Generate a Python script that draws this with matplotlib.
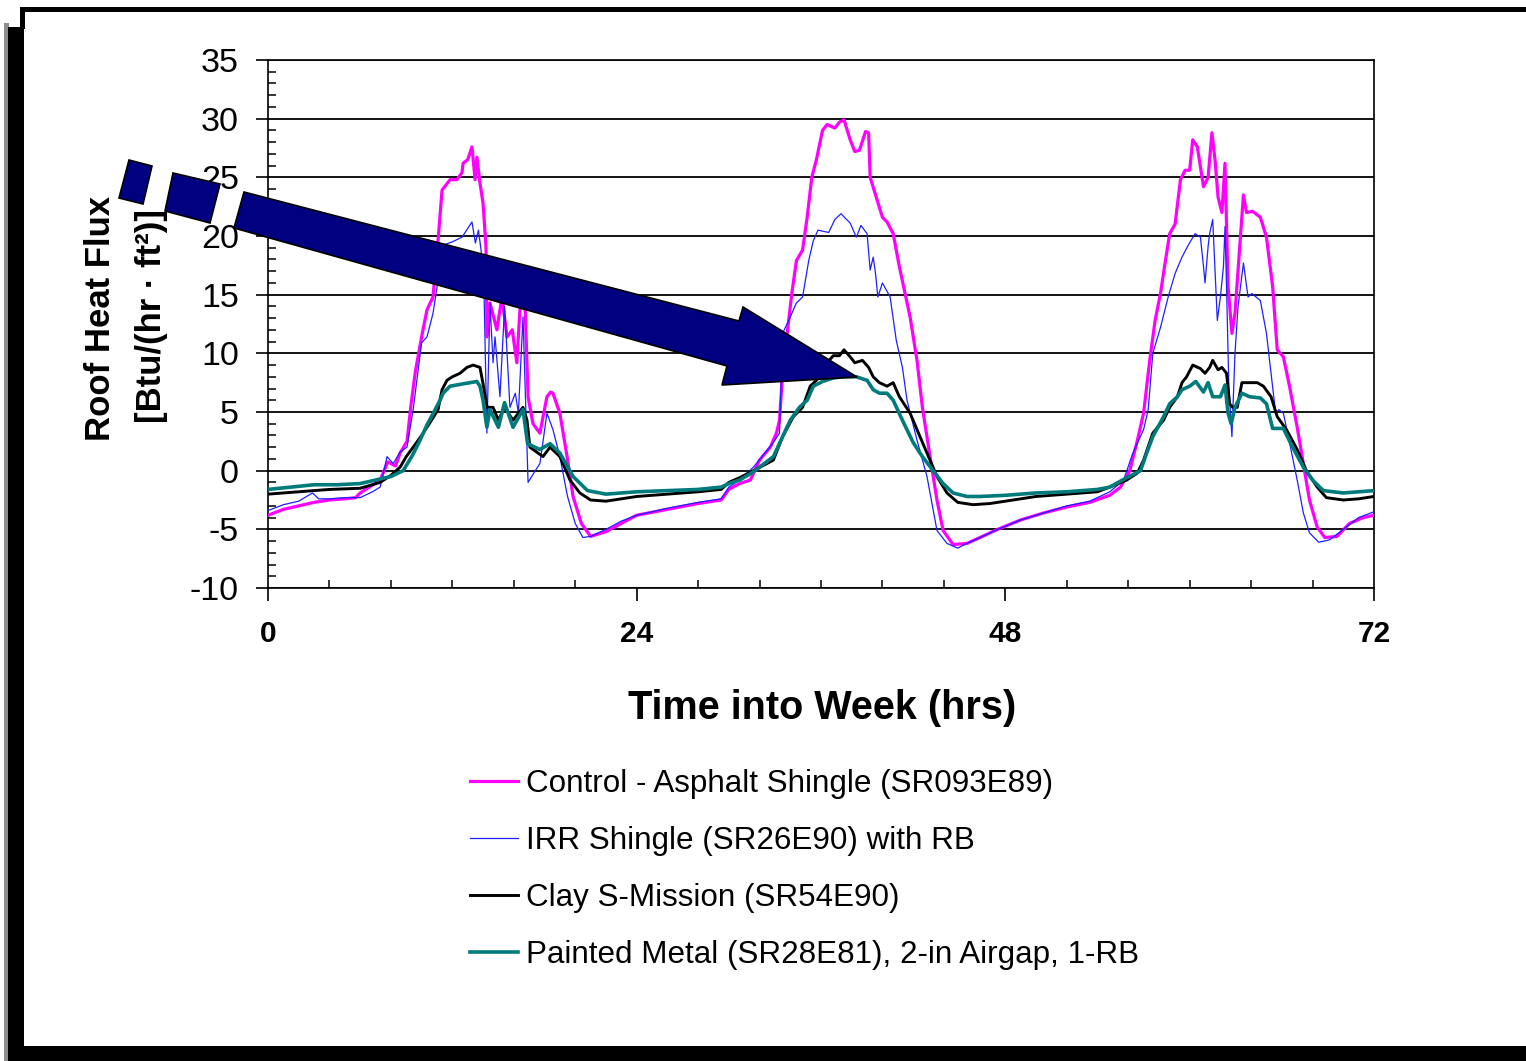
import numpy as np
import matplotlib.pyplot as plt
from matplotlib.patches import Polygon, Rectangle
from matplotlib.ticker import MultipleLocator

plt.rcParams['font.family'] = ['Liberation Sans', 'DejaVu Sans']
plt.rcParams['axes.unicode_minus'] = False

W, H = 1526, 1061

# Control - Asphalt Shingle
hrs_ctrl = [0, 1, 2, 3, 4, 5, 5.7, 6.0, 6.6, 7.3, 7.8, 8.3, 8.6, 9.05, 9.3, 9.6, 10.0, 10.35,
            10.74, 11.07, 11.33, 11.85, 12.3, 12.63, 12.7, 13.0, 13.28, 13.48, 13.6, 13.8, 14.0,
            14.19, 14.26, 14.45, 14.9, 15.23, 15.56, 15.9, 16.2, 16.4, 16.73, 16.93, 17.25, 17.7,
            18.16, 18.4, 18.55, 19.0, 19.47, 19.86, 20.4, 21.0, 22.0, 23.0, 24.0, 26.0, 28.0,
            29.5, 30.0, 30.7, 31.4, 32.0, 32.7, 33.1, 33.3, 33.46, 33.8, 34.1, 34.4, 34.8, 35.1,
            35.4, 35.7, 36.1, 36.4, 36.9, 37.2, 37.5, 37.9, 38.2, 38.5, 38.9, 39.1, 39.2, 39.65,
            40.0, 40.3, 40.7, 41.1, 41.8, 42.25, 42.6, 43.1, 43.55, 43.95, 44.6, 45.5, 46.35,
            47.5, 49.0, 50.5, 52.0, 53.5, 54.8, 55.5, 56.1, 56.6, 57.0, 57.4, 57.75, 58.1, 58.4,
            58.7, 59.05, 59.4, 59.7, 60.0, 60.2, 60.5, 60.9, 61.2, 61.45, 61.65, 61.85, 62.1,
            62.3, 62.5, 62.75, 62.95, 63.3, 63.5, 63.7, 64.1, 64.6, 65.0, 65.4, 65.7, 66.1, 66.5,
            67.0, 67.4, 67.8, 68.3, 68.8, 69.6, 70.4, 71.3, 72.0]
flux_ctrl = [-3.8, -3.3, -3.0, -2.7, -2.5, -2.4, -2.3, -1.9, -1.4, -0.8, 0.75, 0.4, 1.5, 2.5,
             5.5, 8.5, 11.4, 13.7, 14.8, 19.6, 23.9, 24.8, 24.8, 25.4, 26.2, 26.5, 27.6, 24.8,
             26.7, 24.5, 22.8, 19.1, 11.4, 14.3, 12.0, 14.8, 11.4, 12.0, 9.2, 13.7, 14.3, 6.3,
             4.0, 3.2, 6.3, 6.7, 6.6, 4.9, 1.2, -2.2, -4.5, -5.6, -5.2, -4.5, -3.8, -3.3, -2.8,
             -2.5, -1.6, -1.1, -0.8, 0.9, 2.0, 3.2, 4.3, 7.5, 11.7, 15.1, 17.9, 18.8, 21.6,
             25.0, 26.5, 29.0, 29.5, 29.2, 29.7, 29.9, 28.2, 27.2, 27.3, 28.9, 28.8, 25.0, 23.1,
             21.6, 21.2, 20.2, 17.4, 13.1, 9.4, 5.4, 1.2, -2.5, -5.1, -6.3, -6.2, -5.7,
             -5.0, -4.2, -3.6, -3.1, -2.7, -2.1, -1.4, 0.0, 2.6, 4.9, 9.4, 12.8, 15.1, 17.7,
             20.2, 21.0, 24.8, 25.6, 25.6, 28.2, 27.6, 24.2, 25.0, 28.8, 26.5, 23.3, 22.0,
             26.2, 15.7, 11.7, 13.4, 19.9, 23.5, 22.0, 22.1, 21.6, 19.9, 15.7, 10.3, 9.7, 7.2,
             3.7, 0.6, -2.5, -4.8, -5.7, -5.6, -4.5, -4.0, -3.8]

# IRR Shingle with RB
hrs_irr = [0, 1, 2, 2.9, 3.3, 4, 5, 6, 6.8, 7.3, 7.75, 8.15, 8.6, 9.05, 9.45, 10.0, 10.35, 10.74,
           11.0, 11.33, 12.0, 12.63, 13.28, 13.5, 13.7, 13.9, 14.06, 14.25, 14.45, 14.65, 14.78,
           15.1, 15.4, 15.75, 16.1, 16.3, 16.6, 16.86, 16.93, 17.4, 17.7, 18.16, 18.55, 19.0,
           19.5, 20.0, 20.5, 21.0, 22.0, 23.0, 24.0, 26.0, 28.0, 29.5, 30.0, 30.7, 31.6, 32.9,
           33.3, 33.5, 34.0, 34.4, 34.8, 35.2, 35.5, 35.8, 36.5, 36.9, 37.3, 37.9, 38.3, 38.6,
           39.0, 39.2, 39.4, 39.55, 39.7, 40.0, 40.5, 40.9, 41.3, 41.6, 42.25, 42.9, 43.55,
           44.2, 44.9, 45.5, 46.35, 47.5, 49.0, 50.5, 52.0, 53.5, 54.8, 55.7, 56.3, 57.0, 57.3,
           57.6, 58.1, 58.6, 59.05, 59.5, 59.9, 60.35, 60.7, 60.9, 61.0, 61.2, 61.3, 61.5,
           61.65, 61.8, 62.0, 62.2, 62.3, 62.4, 62.55, 62.75, 62.95, 63.15, 63.5, 63.8, 64.05,
           64.6, 65.0, 65.2, 65.6, 65.8, 66.1, 66.5, 67.0, 67.4, 67.8, 68.4, 69.1, 70.0, 71.0,
           72.0]
flux_irr = [-3.4, -2.9, -2.6, -1.9, -2.4, -2.4, -2.3, -2.3, -1.8, -1.4, 1.2, 0.6, 1.6, 2.0, 5.2,
            10.9, 11.4, 13.4, 15.6, 19.2, 19.5, 19.9, 21.2, 19.4, 20.5, 18.5, 15.4, 3.2, 14.3,
            9.2, 11.4, 6.3, 14.0, 5.4, 6.6, 4.9, 13.1, 1.8, -1.0, 0.0, 0.6, 4.9, 3.5, 1.2, -2.2,
            -4.5, -5.7, -5.6, -5.0, -4.3, -3.8, -3.2, -2.7, -2.4, -1.4, -0.8, 0.3, 2.4, 3.2,
            11.7, 13.1, 14.3, 14.8, 17.9, 19.6, 20.5, 20.3, 21.4, 21.9, 21.1, 19.9, 20.9, 20.2,
            17.1, 18.2, 16.8, 14.8, 16.0, 14.8, 11.1, 8.8, 6.0, 2.6, -0.5, -5.1, -6.2, -6.6,
            -6.2, -5.7, -5.0, -4.2, -3.6, -3.0, -2.6, -1.8, -0.8, 1.5, 3.5, 5.2, 10.0, 12.2,
            14.8, 16.8, 18.2, 19.2, 20.2, 19.9, 17.4, 16.0, 19.1, 20.2, 21.4, 17.1, 12.8, 14.8,
            17.4, 20.8, 15.7, 7.2, 2.9, 10.0, 14.0, 17.7, 14.8, 15.1, 14.5, 11.7, 9.4, 4.9, 5.2,
            4.9, 2.4, -0.8, -3.6, -5.3, -6.1, -5.9, -5.0, -4.0, -3.5]

# Clay S-Mission
hrs_clay = [0, 2, 4, 6, 7.3, 8.0, 8.6, 9.0, 9.45, 10.0, 10.5, 11.07, 11.33, 11.65, 12.0, 12.5,
            12.95, 13.35, 13.8, 14.0, 14.26, 14.65, 15.0, 15.4, 15.95, 16.6, 16.86, 17.05, 17.9,
            18.36, 19.0, 19.66, 20.3, 21.0, 22.0, 23.0, 24.0, 26.0, 28.0, 29.5, 30.0, 30.7,
            31.6, 32.9, 33.5, 34.2, 34.8, 35.3, 35.7, 36.4, 36.8, 37.2, 37.5, 37.9, 38.2, 38.7,
            39.1, 39.4, 39.8, 40.3, 40.7, 41.1, 41.8, 42.25, 42.9, 43.55, 44.2, 44.9, 45.9,
            47.0, 48.0, 50.0, 52.0, 54.0, 54.8, 55.9, 56.6, 57.0, 57.6, 58.3, 58.7, 59.2, 59.5,
            59.8, 60.2, 60.7, 61.0, 61.3, 61.5, 61.85, 62.1, 62.4, 62.6, 62.8, 63.1, 63.4, 64.4,
            64.8, 65.3, 65.7, 66.3, 67.0, 67.6, 68.3, 68.9, 70.0, 71.0, 72.0]
flux_clay = [-2.0, -1.8, -1.6, -1.5, -1.0, -0.4, 0.3, 1.2, 2.0, 3.0, 4.0, 5.2, 6.9, 7.7, 8.0,
             8.3, 8.8, 9.0, 8.8, 7.4, 5.4, 5.4, 4.3, 5.4, 4.3, 5.4, 4.3, 2.0, 1.2, 2.0, 1.2,
             -0.8, -1.9, -2.5, -2.6, -2.4, -2.2, -2.0, -1.8, -1.6, -1.0, -0.6, 0.0, 0.9, 2.9,
             4.6, 5.4, 7.2, 7.7, 9.2, 9.8, 9.8, 10.3, 9.7, 9.2, 9.4, 8.8, 8.0, 7.5, 7.2, 7.5,
             6.3, 4.9, 3.5, 1.5, -0.5, -1.9, -2.7, -2.9, -2.8, -2.6, -2.2, -2.0, -1.8, -1.4,
             -0.8, -0.2, 0.9, 3.2, 4.3, 5.4, 6.3, 7.5, 8.0, 9.0, 8.7, 8.3, 8.8, 9.4, 8.6, 8.8,
             8.3, 5.7, 5.4, 5.4, 7.5, 7.5, 7.2, 6.3, 4.6, 3.5, 1.8, 0.0, -1.4, -2.3, -2.5,
             -2.4, -2.2]

# Painted Metal, 2-in Airgap
hrs_metal = [0, 1.5, 3, 4.5, 6, 7, 8, 8.8, 9.4, 9.9, 10.35, 10.8, 11.2, 11.4, 11.85, 12.7,
             13.6, 13.8, 14.0, 14.25, 14.45, 14.78, 15.0, 15.4, 15.95, 16.6, 16.9, 17.7, 18.36,
             19.0, 19.86, 20.8, 22.0, 24.0, 26.0, 28.0, 29.5, 30.0, 30.7, 31.6, 32.9, 33.5,
             34.0, 34.6, 35.1, 35.5, 36.1, 36.8, 37.4, 38.3, 39.0, 39.4, 39.8, 40.3, 40.7,
             41.3, 42.0, 42.6, 43.3, 43.95, 44.6, 45.5, 46.35, 48.0, 50.0, 52.0, 54.0, 54.8,
             55.9, 56.8, 57.2, 57.6, 58.3, 58.7, 59.2, 59.5, 60.0, 60.4, 60.9, 61.2, 61.5, 62.0,
             62.3, 62.5, 62.7, 62.95, 63.4, 63.9, 64.6, 65.0, 65.4, 66.1, 66.7, 67.4, 68.0,
             68.7, 70.0, 71.0, 72.0]
flux_metal = [-1.6, -1.4, -1.2, -1.2, -1.1, -0.8, -0.5, 0.0, 1.3, 2.6, 3.9, 5.0, 6.0, 6.6, 7.2,
              7.4, 7.6, 7.2, 6.0, 3.7, 5.2, 4.3, 3.7, 5.8, 3.7, 5.2, 2.3, 1.8, 2.3, 1.5, -0.5,
              -1.7, -2.0, -1.8, -1.7, -1.6, -1.4, -1.1, -0.8, -0.1, 1.2, 2.9, 4.3, 5.4, 6.0,
              7.2, 7.6, 7.9, 8.0, 8.0, 7.7, 6.9, 6.6, 6.6, 6.0, 4.3, 2.4, 1.2, 0.0, -1.1, -1.9,
              -2.2, -2.2, -2.1, -1.9, -1.8, -1.6, -1.4, -0.6, 0.0, 1.5, 2.9, 4.6, 5.7, 6.3, 6.9,
              7.2, 7.6, 6.7, 7.5, 6.3, 6.3, 7.3, 4.9, 4.0, 5.4, 6.6, 6.3, 6.2, 5.7, 3.6, 3.6,
              2.0, 0.3, -0.8, -1.7, -1.9, -1.8, -1.7]

labels = ['Control - Asphalt Shingle (SR093E89)',
          'IRR Shingle (SR26E90) with RB',
          'Clay S-Mission (SR54E90)',
          'Painted Metal (SR28E81), 2-in Airgap, 1-RB']
colors = ['#ff00ff', '#1f1fff', '#000000', '#007b7b']
widths = [2.3, 0.9, 2.1, 2.6]


def px(x, y):
    # pixel position (from top left) -> figure fraction
    return (x / W, 1 - y / H)


fig = plt.figure(figsize=(W / 100, H / 100), dpi=100)
ax = fig.add_axes([268 / W, 1 - 588 / H, (1374 - 268) / W, (588 - 60) / H])

series = [(hrs_ctrl, flux_ctrl), (hrs_irr, flux_irr), (hrs_clay, flux_clay), (hrs_metal, flux_metal)]
handles = []
for (h, v), c, lw, lab in zip(series, colors, widths, labels):
    ln, = ax.plot(h, v, color=c, lw=lw, label=lab, zorder=3)
    handles.append(ln)

ax.set_xlim(0, 72)
ax.set_ylim(-10, 35)
ax.set_xticks([0, 24, 48, 72])
ax.xaxis.set_minor_locator(MultipleLocator(4))
ax.yaxis.set_major_locator(MultipleLocator(5))
ax.yaxis.set_minor_locator(MultipleLocator(1))
ax.grid(axis='y', which='major', color='black', lw=1.3, zorder=1)
for s in ax.spines.values():
    s.set_linewidth(1.2)

ax.tick_params(axis='y', which='major', direction='out', length=9, width=1.2,
               labelsize=24.5, pad=12)
ax.tick_params(axis='y', which='minor', direction='in', length=6, width=1.1)
ax.tick_params(axis='x', which='major', direction='out', length=9, width=1.2,
               labelsize=21.5, pad=14)
ax.tick_params(axis='x', which='minor', direction='in', length=6, width=1.1)
for t in ax.get_xticklabels():
    t.set_fontweight('bold')

fig.text(*px(822, 708), 'Time into Week (hrs)', fontsize=28.5, fontweight='bold',
         ha='center', va='center')
fig.text(*px(101, 318), 'Roof Heat Flux', fontsize=25, fontweight='bold',
         rotation=90, ha='center', va='center')
fig.text(*px(151, 316), '[Btu/(hr \u00b7 ft\u00b2)]', fontsize=25, fontweight='bold',
         rotation=90, ha='center', va='center')

fig.legend(handles, labels, loc='upper left', bbox_to_anchor=px(470, 769),
           frameon=False, borderpad=0, borderaxespad=0, handlelength=1.53,
           handletextpad=0.25, labelspacing=0.86, fontsize=22.6)

# big dashed block arrow drawn over the plot
arrow_parts = [
    [(129, 160), (152, 166), (143, 204), (119, 198)],
    [(173, 173), (220, 184), (210, 223), (165, 211)],
    [(244, 192), (739, 321), (743, 307), (857, 377), (722, 385), (727, 366), (234, 228)],
]
for part in arrow_parts:
    fig.add_artist(Polygon([px(x, y) for x, y in part], closed=True, transform=fig.transFigure,
                           facecolor='#000080', edgecolor='black', lw=1.2, zorder=10))

# slide frame
frame = [
    (4, 23, 5, 1038, '#8c8c8c'),
    (8, 27, 16, 1034, 'black'),
    (20, 7, 5, 22, 'black'),
    (20, 7, 1506, 5, 'black'),
    (8, 1046, 1518, 15, 'black'),
]
for x, y, w, h, c in frame:
    fig.add_artist(Rectangle(px(x, y + h), w / W, h / H, transform=fig.transFigure,
                             facecolor=c, edgecolor='none', zorder=11))

fig.savefig('out.png', dpi=100)
